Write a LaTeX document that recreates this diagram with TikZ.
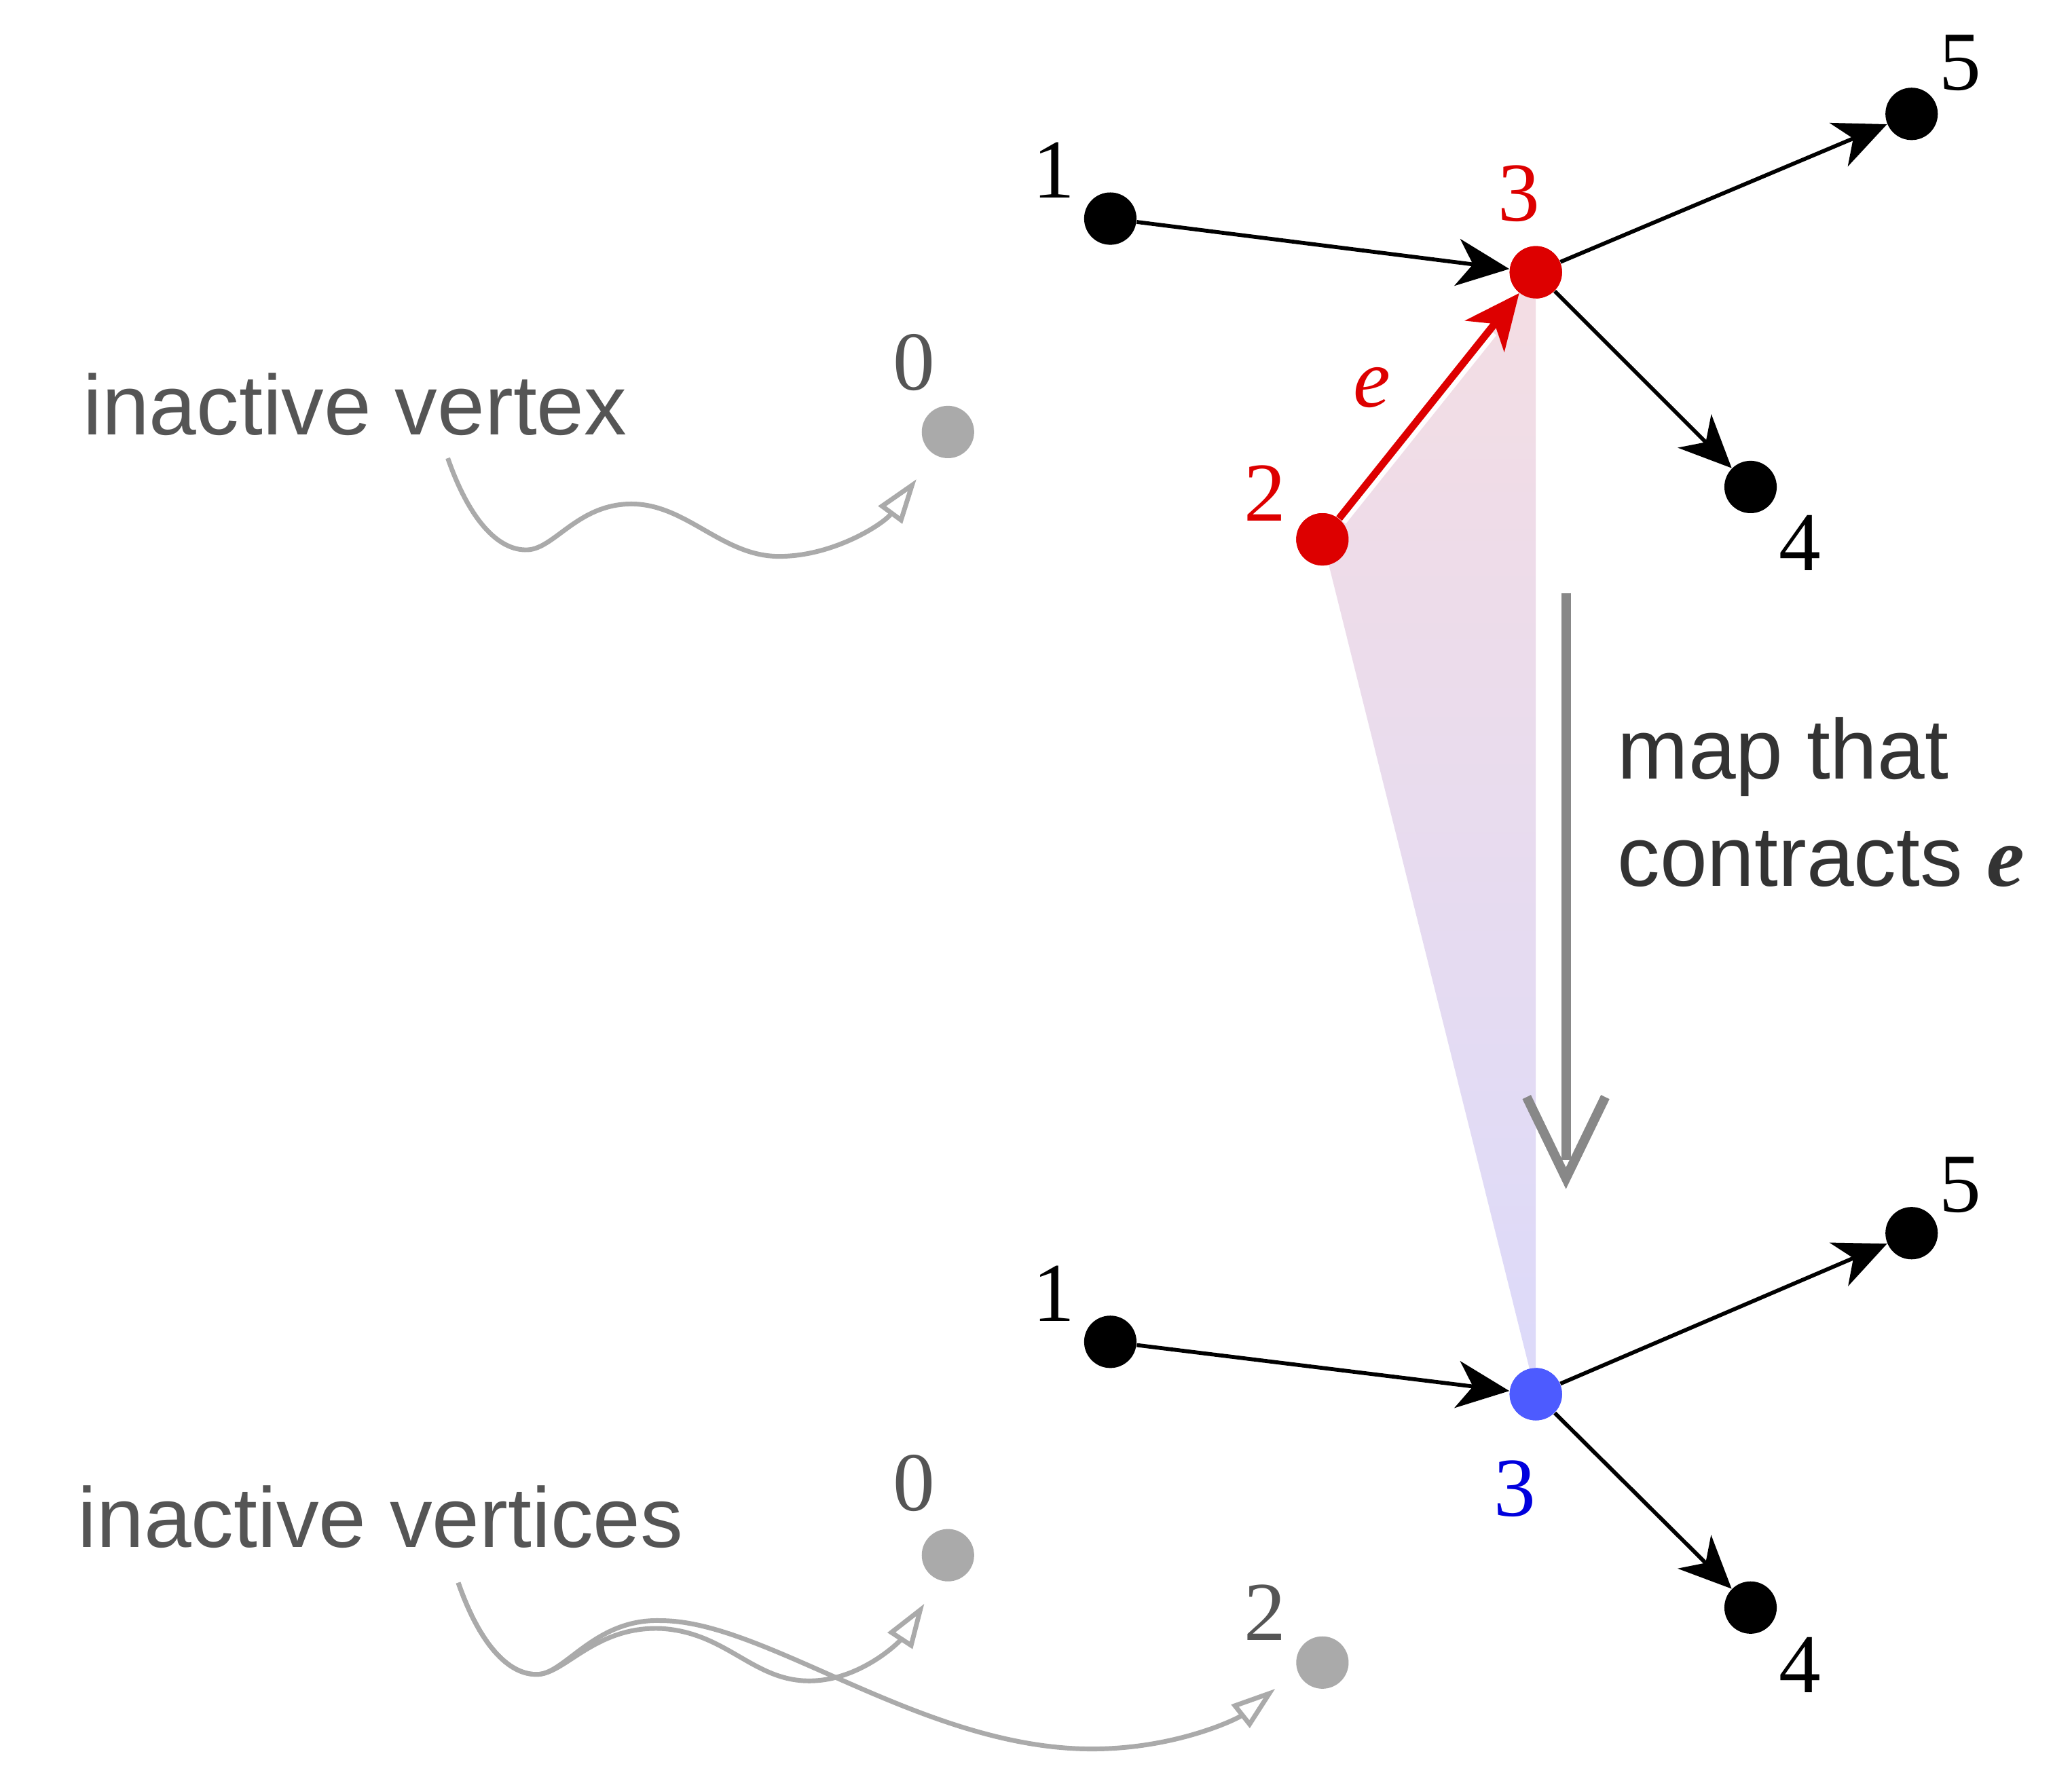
\documentclass[tikz,border=0pt]{standalone}
\usepackage{fontspec}
\setmainfont{Liberation Serif}
\setsansfont{Liberation Sans}
\usetikzlibrary{arrows.meta}
\definecolor{myred}{RGB}{221,0,0}
\definecolor{myblue}{RGB}{77,91,255}
\definecolor{lblblue}{RGB}{0,0,221}
\definecolor{inact}{RGB}{170,170,170}
\definecolor{txtgray}{RGB}{85,85,85}
\definecolor{txtdark}{RGB}{51,51,51}
\definecolor{bigarrow}{RGB}{136,136,136}
\definecolor{shadetop}{RGB}{244,221,227}
\definecolor{shadebot}{RGB}{220,218,250}
\begin{document}
\begin{tikzpicture}[x=0.5pt,y=-0.5pt,
  vtx/.style={circle,fill=black,inner sep=0pt,minimum size=20pt},
  redvtx/.style={vtx,fill=myred},
  bluevtx/.style={vtx,fill=myblue},
  grayvtx/.style={vtx,fill=inact},
  numlbl/.style={font=\fontsize{32}{36}\selectfont,inner sep=0pt},
  sanslbl/.style={font=\sffamily\fontsize{32.5}{40}\selectfont,inner sep=0pt,anchor=base west},
  blackedge/.style={line width=1.5pt,-{Stealth[length=20pt,width=18pt,inset=6pt]}},
  rededge/.style={draw=myred,line width=2.8pt,-{Stealth[length=21pt,width=19pt,inset=6pt]}},
  squig/.style={draw=inact,line width=1.8pt,-{Triangle[length=17pt,width=11pt,fill=white]}},
  bigarr/.style={draw=bigarrow,line width=3.6pt}
]
\useasboundingbox (0,0) rectangle (1568,1368.4);

% ---------- vertices ----------
\node[vtx] (n1) at (848,167) {};
\node[redvtx] (n3) at (1173,208) {};
\node[vtx] (n5) at (1460,87) {};
\node[vtx] (n4) at (1337,372) {};
\node[redvtx] (n2) at (1010,412) {};
\node[grayvtx] (n0) at (724,330) {};

\node[vtx] (m1) at (848,1025) {};
\node[bluevtx] (m3) at (1173,1065) {};
\node[vtx] (m5) at (1460,942) {};
\node[vtx] (m4) at (1337,1228) {};
\node[grayvtx] (m0) at (724,1188) {};
\node[grayvtx] (m2) at (1010,1270) {};

% ---------- shading ----------
\shade[top color=shadetop,bottom color=shadebot] (n2.center) -- (n3.center) -- (m3.center) -- cycle;
\node[redvtx] at (n2) {};
\node[redvtx] at (n3) {};
\node[bluevtx] at (m3) {};

% ---------- edges ----------
\draw[blackedge] (n1) -- (n3);
\draw[blackedge] (n3) -- (n5);
\draw[blackedge] (n3) -- (n4);
\draw[white,line width=6.5pt,shorten >=18pt] (n2) -- (n3);
\draw[rededge] (n2) -- (n3);

\draw[blackedge] (m1) -- (m3);
\draw[blackedge] (m3) -- (m5);
\draw[blackedge] (m3) -- (m4);

% ---------- labels ----------
\node[numlbl] (l1) at (805,130) {1};
\node[numlbl,text=myred] (l3) at (1160,148) {3};
\node[numlbl] (l5) at (1497,48) {5};
\node[numlbl] (l4) at (1375,415) {4};
\node[numlbl,text=myred] (l2) at (966,377) {2};
\node[numlbl,text=myred,font=\itshape\fontsize{32}{36}\selectfont] (le) at (1048,296) {e};
\node[numlbl,text=txtgray] (l0) at (698,277) {0};

\node[numlbl] (k1) at (805,988) {1};
\node[numlbl] (k5) at (1497,905) {5};
\node[numlbl] (k4) at (1375,1272) {4};
\node[numlbl,text=lblblue] (k3) at (1157,1137) {3};
\node[numlbl,text=txtgray] (k0) at (698,1133) {0};
\node[numlbl,text=txtgray] (k2) at (966,1232) {2};

% ---------- texts ----------
\node[sanslbl,text=txtgray] (tiv) at (63,332) {inactive vertex};
\node[sanslbl,text=txtgray] (tivs) at (59,1182) {inactive vertices};
\node[sanslbl,text=txtdark] (tmap) at (1235,595) {map that};
\node[sanslbl,text=txtdark] (tcon) at (1235,677) {contracts {\rmfamily\bfseries\itshape e}};

% ---------- big gray arrow ----------
\coordinate (gtop) at (1196,453);
\coordinate (gtip) at (1196,900);
\coordinate (gshaft) at (1196,886);
\coordinate (gl) at (1166,838);
\coordinate (gr) at (1226,838);
\draw[bigarr] (gtop) -- (gshaft);
\draw[bigarr,line join=miter] (gl) -- (gtip) -- (gr);

% ---------- squiggles ----------
\coordinate (s1) at (342,350);
\coordinate (t1) at (700,366);
\draw[squig] (s1) .. controls (358,396) and (380,421) .. (403,420)
  .. controls (424,419) and (442,384) .. (484,385)
  .. controls (525,386) and (552,425) .. (595,425)
  .. controls (637,425) and (675,400) .. (t1);

\coordinate (s2) at (350,1209);
\coordinate (t2) at (706,1225);
\coordinate (t3) at (974,1290);
\draw[squig] (s2) .. controls (366,1255) and (388,1280) .. (411,1279)
  .. controls (432,1278) and (455,1242) .. (505,1244)
  .. controls (555,1247) and (575,1284) .. (618,1284)
  .. controls (657,1284) and (687,1254) .. (t2);
\draw[squig] (s2) .. controls (366,1255) and (388,1280) .. (411,1279)
  .. controls (432,1278) and (455,1236) .. (505,1238)
  .. controls (585,1238) and (705,1336) .. (834,1336)
  .. controls (898,1336) and (945,1313) .. (t3);
\end{tikzpicture}
\end{document}
